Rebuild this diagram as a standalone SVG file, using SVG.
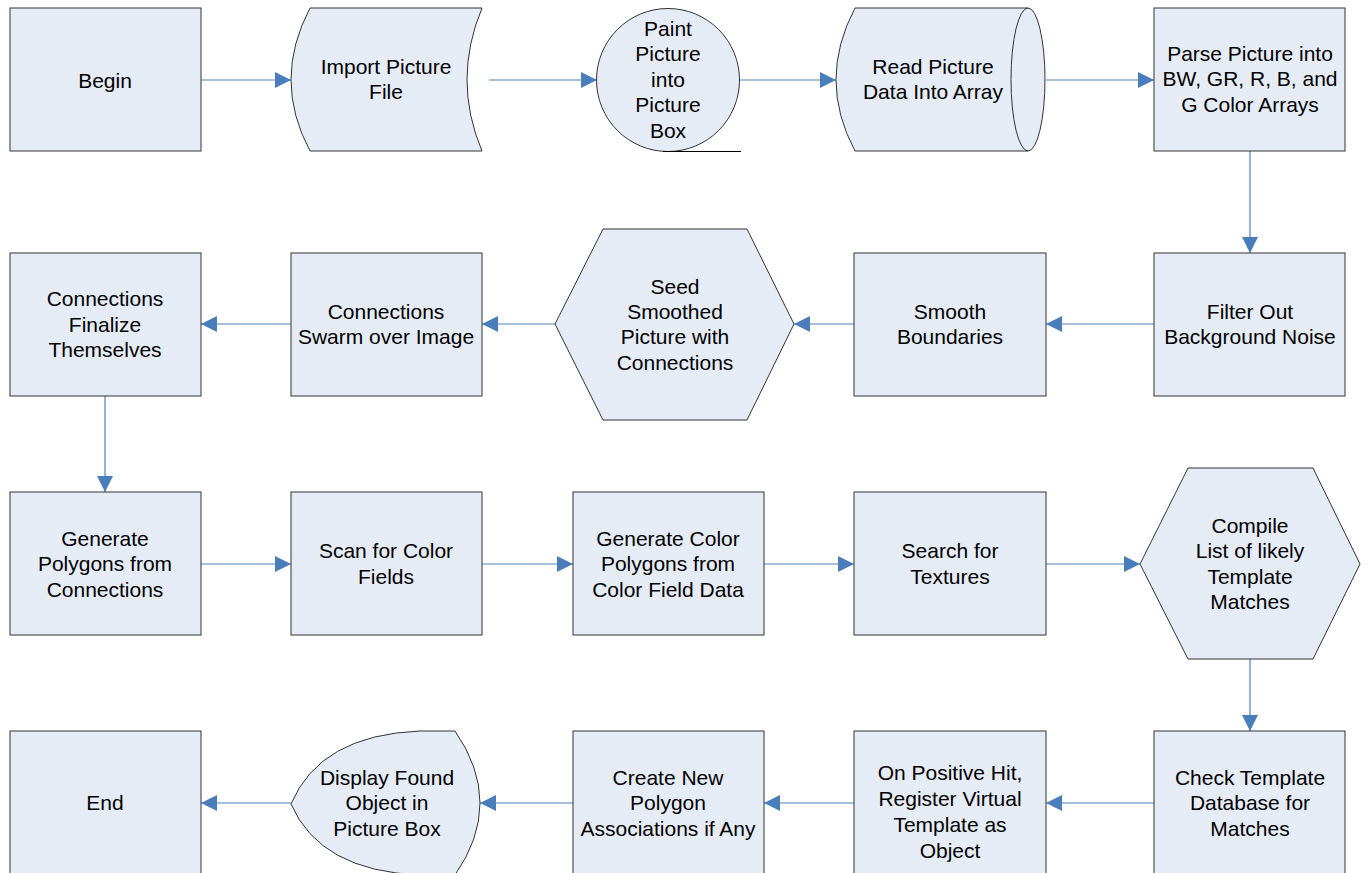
<svg xmlns="http://www.w3.org/2000/svg" width="1368" height="873" viewBox="0 0 1368 873">
<style>
.n{fill:#e6ecf6;stroke:#333;stroke-width:1}
.t{font-family:"Liberation Sans",Arial,sans-serif;font-size:21px;fill:#000;text-anchor:middle}
.c{fill:none;stroke:#4f81bd;stroke-width:1.2}
</style>
<defs>
<marker id="ah" markerUnits="userSpaceOnUse" markerWidth="16" markerHeight="16" viewBox="0 0 14 14" refX="14" refY="7" orient="auto">
<path d="M0,0 L14,7 L0,14 Z" fill="#4a7ebb"/>
</marker>
</defs>
<rect width="1368" height="873" fill="#fff"/>
<g id="connectors">
<line class="c" x1="201" y1="80" x2="291" y2="80" marker-end="url(#ah)"/>
<line class="c" x1="489" y1="80" x2="597" y2="80" marker-end="url(#ah)"/>
<line class="c" x1="740" y1="80" x2="836" y2="80" marker-end="url(#ah)"/>
<line class="c" x1="1046" y1="80" x2="1154" y2="80" marker-end="url(#ah)"/>
<line class="c" x1="1250" y1="151" x2="1250" y2="253" marker-end="url(#ah)"/>
<line class="c" x1="1154" y1="324" x2="1046" y2="324" marker-end="url(#ah)"/>
<line class="c" x1="854" y1="324" x2="794" y2="324" marker-end="url(#ah)"/>
<line class="c" x1="555" y1="324" x2="482" y2="324" marker-end="url(#ah)"/>
<line class="c" x1="291" y1="324" x2="201" y2="324" marker-end="url(#ah)"/>
<line class="c" x1="105" y1="396" x2="105" y2="492" marker-end="url(#ah)"/>
<line class="c" x1="201" y1="564" x2="291" y2="564" marker-end="url(#ah)"/>
<line class="c" x1="482" y1="564" x2="573" y2="564" marker-end="url(#ah)"/>
<line class="c" x1="764" y1="564" x2="854" y2="564" marker-end="url(#ah)"/>
<line class="c" x1="1046" y1="564" x2="1140" y2="564" marker-end="url(#ah)"/>
<line class="c" x1="1250" y1="659" x2="1250" y2="731" marker-end="url(#ah)"/>
<line class="c" x1="1154" y1="803" x2="1046" y2="803" marker-end="url(#ah)"/>
<line class="c" x1="854" y1="803" x2="764" y2="803" marker-end="url(#ah)"/>
<line class="c" x1="573" y1="803" x2="480" y2="803" marker-end="url(#ah)"/>
<line class="c" x1="291" y1="803" x2="201" y2="803" marker-end="url(#ah)"/>
</g>
<g id="begin"><rect class="n" x="10" y="8" width="191" height="143"/><text class="t" x="105" y="87.5">Begin</text></g>
<g id="import"><path class="n" d="M310,8 L482,8 Q452,80 482,151 L310,151 Q272,80 310,8 Z"/><text class="t" x="386" y="73.5">Import Picture</text><text class="t" x="386" y="99">File</text></g>
<g id="paint"><circle class="n" cx="668" cy="80" r="71.5"/><line x1="663" y1="151.5" x2="741" y2="151.5" stroke="#000" stroke-width="1"/><text class="t" x="668" y="35.5">Paint</text><text class="t" x="668" y="61">Picture</text><text class="t" x="668" y="86.5">into</text><text class="t" x="668" y="112">Picture</text><text class="t" x="668" y="137.5">Box</text></g>
<g id="read"><path class="n" d="M855,8 L1028,8 A17,71.5 0 0 1 1028,151 L855,151 Q817,80 855,8 Z"/><path d="M1028,8 A17,71.5 0 0 0 1028,151" fill="none" stroke="#333"/><text class="t" x="933" y="73.5">Read Picture</text><text class="t" x="933" y="99">Data Into Array</text></g>
<g id="parse"><rect class="n" x="1154" y="8" width="191" height="143"/><text class="t" x="1250" y="60.5">Parse Picture into</text><text class="t" x="1250" y="86">BW, GR, R, B, and</text><text class="t" x="1250" y="111.5">G Color Arrays</text></g>
<g id="filter"><rect class="n" x="1154" y="253" width="191" height="143"/><text class="t" x="1250" y="318.5">Filter Out</text><text class="t" x="1250" y="344">Background Noise</text></g>
<g id="smooth"><rect class="n" x="854" y="253" width="192" height="143"/><text class="t" x="950" y="318.5">Smooth</text><text class="t" x="950" y="344">Boundaries</text></g>
<g id="seed"><polygon class="n" points="555,324 603,229 747,229 794,324 747,420 603,420"/><text class="t" x="675" y="293.5">Seed</text><text class="t" x="675" y="318.5">Smoothed</text><text class="t" x="675" y="344">Picture with</text><text class="t" x="675" y="369.5">Connections</text></g>
<g id="swarm"><rect class="n" x="291" y="253" width="191" height="143"/><text class="t" x="386" y="318.5">Connections</text><text class="t" x="386" y="344">Swarm over Image</text></g>
<g id="finalize"><rect class="n" x="10" y="253" width="191" height="143"/><text class="t" x="105" y="306">Connections</text><text class="t" x="105" y="331.5">Finalize</text><text class="t" x="105" y="357">Themselves</text></g>
<g id="genpoly"><rect class="n" x="10" y="492" width="191" height="143"/><text class="t" x="105" y="545.5">Generate</text><text class="t" x="105" y="571">Polygons from</text><text class="t" x="105" y="596.5">Connections</text></g>
<g id="scan"><rect class="n" x="291" y="492" width="191" height="143"/><text class="t" x="386" y="558">Scan for Color</text><text class="t" x="386" y="583.5">Fields</text></g>
<g id="gencolor"><rect class="n" x="573" y="492" width="191" height="143"/><text class="t" x="668" y="545.5">Generate Color</text><text class="t" x="668" y="571">Polygons from</text><text class="t" x="668" y="596.5">Color Field Data</text></g>
<g id="search"><rect class="n" x="854" y="492" width="192" height="143"/><text class="t" x="950" y="558">Search for</text><text class="t" x="950" y="583.5">Textures</text></g>
<g id="compile"><polygon class="n" points="1140,564 1188,468 1313,468 1360,564 1313,659 1188,659"/><text class="t" x="1250" y="532.5">Compile</text><text class="t" x="1250" y="558">List of likely</text><text class="t" x="1250" y="583.5">Template</text><text class="t" x="1250" y="609">Matches</text></g>
<g id="check"><rect class="n" x="1154" y="731" width="191" height="150"/><text class="t" x="1250" y="784.5">Check Template</text><text class="t" x="1250" y="810">Database for</text><text class="t" x="1250" y="835.5">Matches</text></g>
<g id="positive"><rect class="n" x="854" y="731" width="192" height="150"/><text class="t" x="950" y="780">On Positive Hit,</text><text class="t" x="950" y="806">Register Virtual</text><text class="t" x="950" y="832">Template as</text><text class="t" x="950" y="858">Object</text></g>
<g id="create"><rect class="n" x="573" y="731" width="191" height="150"/><text class="t" x="668" y="784.5">Create New</text><text class="t" x="668" y="810">Polygon</text><text class="t" x="668" y="835.5">Associations if Any</text></g>
<g id="display"><path class="n" d="M291,804 Q320,735 420,731 L455,731 Q505,803 455,875 L420,875 Q320,871 291,804 Z"/><text class="t" x="387" y="784.5">Display Found</text><text class="t" x="387" y="810">Object in</text><text class="t" x="387" y="835.5">Picture Box</text></g>
<g id="end"><rect class="n" x="10" y="731" width="191" height="150"/><text class="t" x="105" y="810">End</text></g>
</svg>
